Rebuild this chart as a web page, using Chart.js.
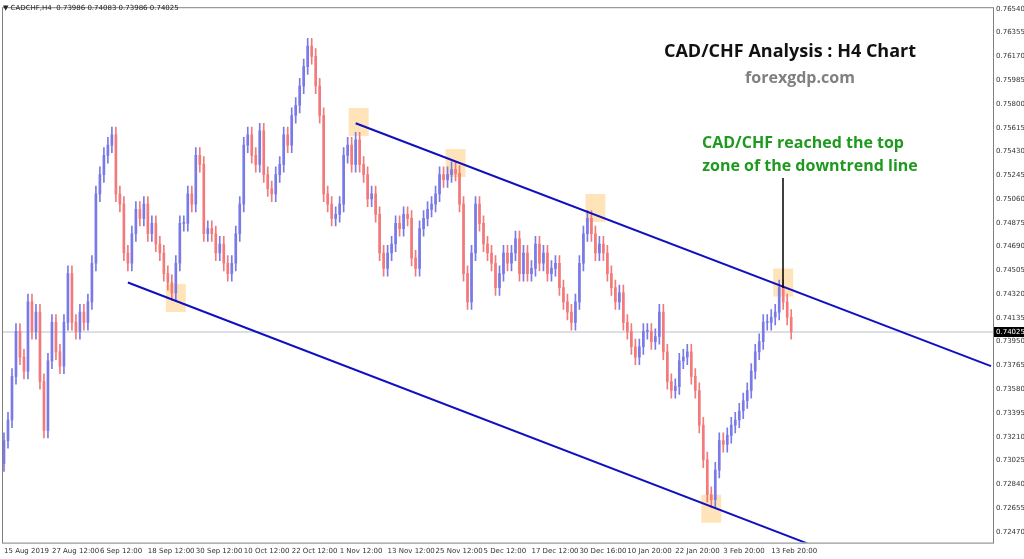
<!DOCTYPE html>
<html>
<head>
<meta charset="utf-8">
<script src="https://cdn.jsdelivr.net/npm/chart.js@4.4.1/dist/chart.umd.min.js"></script>
<style>
body { margin: 0; background: #fff; }
#wrap { width: 1024px; height: 559px; position: relative; }
</style>
</head>
<body>
<div id="wrap"><canvas id="c" width="1024" height="559"></canvas></div>
<script>
// H4 closes (one bar every ~4px)
const closes = [
	0.7318, 0.7334, 0.7368, 0.7403, 0.7383, 0.7372, 0.7426, 0.7403, 0.7418, 0.7364,
	0.7326, 0.7380, 0.7410, 0.7387, 0.7376, 0.7410, 0.7448, 0.7410, 0.7403, 0.7418,
	0.7410, 0.7426, 0.7456, 0.7510, 0.7525, 0.7540, 0.7548, 0.7556, 0.7510, 0.7502,
	0.7464, 0.7456, 0.7479, 0.7498, 0.7491, 0.7502, 0.7479, 0.7487, 0.7471, 0.7464,
	0.7448, 0.7441, 0.7433, 0.7456, 0.7487, 0.7487, 0.7510, 0.7502, 0.7540, 0.7533,
	0.7479, 0.7483, 0.7479, 0.7464, 0.7471, 0.7456, 0.7448, 0.7456, 0.7479, 0.7502,
	0.7548, 0.7556, 0.7540, 0.7533, 0.7559, 0.7525, 0.7514, 0.7510, 0.7525, 0.7533,
	0.7556, 0.7548, 0.7571, 0.7579, 0.7594, 0.7609, 0.7625, 0.7617, 0.7594, 0.7571,
	0.7510, 0.7502, 0.7491, 0.7494, 0.7502, 0.7540, 0.7548, 0.7533, 0.7552, 0.7533,
	0.7525, 0.7506, 0.7510, 0.7494, 0.7464, 0.7452, 0.7464, 0.7471, 0.7487, 0.7483,
	0.7494, 0.7491, 0.7460, 0.7452, 0.7483, 0.7491, 0.7498, 0.7502, 0.7510, 0.7525,
	0.7521, 0.7525, 0.7529, 0.7526, 0.7502, 0.7448, 0.7426, 0.7464, 0.7502, 0.7487,
	0.7471, 0.7464, 0.7456, 0.7437, 0.7448, 0.7464, 0.7456, 0.7464, 0.7475, 0.7448,
	0.7464, 0.7448, 0.7452, 0.7471, 0.7456, 0.7464, 0.7448, 0.7452, 0.7456, 0.7437,
	0.7426, 0.7418, 0.7410, 0.7426, 0.7456, 0.7479, 0.7491, 0.7479, 0.7464, 0.7471,
	0.7464, 0.7448, 0.7437, 0.7426, 0.7433, 0.7410, 0.7403, 0.7391, 0.7383, 0.7391,
	0.7403, 0.7403, 0.7395, 0.7399, 0.7418, 0.7387, 0.7364, 0.7357, 0.7360, 0.7380,
	0.7383, 0.7387, 0.7368, 0.7357, 0.7330, 0.7303, 0.7276, 0.7272, 0.7295, 0.7318,
	0.7315, 0.7322, 0.7330, 0.7334, 0.7341, 0.7349, 0.7357, 0.7372, 0.7387, 0.7395,
	0.7410, 0.7410, 0.7414, 0.7418, 0.7437, 0.7426, 0.7414, 0.7403
]
const firstOpen = 0.7300
const wick = 0.0006
const totalSlots = 248

const xTickLabels = ['15 Aug 2019', '27 Aug 12:00', '6 Sep 12:00', '18 Sep 12:00', '30 Sep 12:00',
	'10 Oct 12:00', '22 Oct 12:00', '1 Nov 12:00', '13 Nov 12:00', '25 Nov 12:00', '5 Dec 12:00',
	'17 Dec 12:00', '30 Dec 16:00', '10 Jan 20:00', '22 Jan 20:00', '3 Feb 20:00', '13 Feb 20:00']
const xTickEvery = 12
const yTicks = [0.72470, 0.72655, 0.72840, 0.73025, 0.73210, 0.73395, 0.73580, 0.73765, 0.73950,
	0.74135, 0.74320, 0.74505, 0.74690, 0.74875, 0.75060, 0.75245, 0.75430, 0.75615, 0.75800,
	0.75985, 0.76170, 0.76355, 0.76540]
const lastPrice = 0.74025

// channel lines: [index, price]
const upperLine = [[88, 0.7565], [247, 0.7376]]
const lowerLine = [[31, 0.7441], [201, 0.7238]]
// highlighted touch points: [index, price]
const touches = [[88.75, 0.7566], [113, 0.7534], [148, 0.7499], [195, 0.7441], [43, 0.7429], [177, 0.7265]]

const labels = []
for (let i = 0; i < totalSlots; i++) {
	labels.push(i % xTickEvery === 0 && xTickLabels[i / xTickEvery] ? xTickLabels[i / xTickEvery] : '')
}
const bodies = [], wicks = [], colors = []
closes.forEach(function (c, i) {
	const o = i === 0 ? firstOpen : closes[i - 1]
	bodies.push([o, c])
	wicks.push([Math.min(o, c) - wick, Math.max(o, c) + wick])
	colors.push(c >= o ? '#7a7ae6' : '#f27a7a')
})

function lineData(pts) {
	const d = new Array(totalSlots).fill(null)
	pts.forEach(p => { d[p[0]] = p[1] })
	return d
}

const overlay = {
	id: 'overlay',
	beforeDatasetsDraw(chart) {
		const ctx = chart.ctx, y = chart.scales.y, a = chart.chartArea
		ctx.save()
		ctx.fillStyle = 'rgba(255, 205, 130, 0.55)'
		touches.forEach(function (t) {
			const px = a.left + (t[0] + 0.5) * (a.width / totalSlots)
			ctx.fillRect(px - 10, y.getPixelForValue(t[1]) - 14, 20, 28)
		})
		const ly = y.getPixelForValue(lastPrice)
		ctx.strokeStyle = '#b8bec8'
		ctx.lineWidth = 1
		ctx.beginPath(); ctx.moveTo(a.left, ly); ctx.lineTo(a.right, ly); ctx.stroke()
		ctx.restore()
	},
	afterDraw(chart) {
		const ctx = chart.ctx, y = chart.scales.y, a = chart.chartArea
		ctx.save()
		ctx.strokeStyle = '#808080'
		ctx.lineWidth = 1
		ctx.strokeRect(a.left + 0.5, a.top + 0.5, a.width, a.height)
		// arrow line
		ctx.strokeStyle = '#000'
		ctx.lineWidth = 1.5
		ctx.beginPath(); ctx.moveTo(783, 178); ctx.lineTo(783, 288); ctx.stroke()
		// last price label
		const ly = y.getPixelForValue(lastPrice)
		ctx.fillStyle = '#000'
		ctx.fillRect(a.right + 1, ly - 5, 30, 10)
		ctx.fillStyle = '#fff'
		ctx.font = '7px Tahoma, "DejaVu Sans"'
		ctx.textBaseline = 'middle'
		ctx.fillText(lastPrice.toFixed(5), a.right + 3, ly)
		// texts
		ctx.textAlign = 'center'
		ctx.fillStyle = '#111'
		ctx.font = 'bold 18px "Open Sans", "DejaVu Sans"'
		ctx.fillText('CAD/CHF Analysis : H4 Chart', 790, 52)
		ctx.fillStyle = '#808080'
		ctx.font = 'bold 16px "Open Sans", "DejaVu Sans"'
		ctx.fillText('forexgdp.com', 800, 78)
		ctx.fillStyle = '#1e9a1e'
		ctx.fillText('CAD/CHF reached the top', 803, 143)
		ctx.fillText('zone of the downtrend line', 810, 166)
		ctx.textAlign = 'left'
		ctx.fillStyle = '#222'
		ctx.font = '7px Tahoma, "DejaVu Sans"'
		ctx.fillText('\u25BC CADCHF,H4  0.73986 0.74083 0.73986 0.74025', 3, 8)
		ctx.restore()
	}
}

new Chart(document.getElementById('c'), {
	type: 'bar',
	data: {
		labels: labels,
		datasets: [
			{ data: wicks, backgroundColor: colors, barThickness: 1, grouped: false, order: 3 },
			{ data: bodies, backgroundColor: colors, barThickness: 2, grouped: false, order: 2, minBarLength: 1 },
			{ type: 'line', data: lineData(upperLine), spanGaps: true, borderColor: '#1010c0', borderWidth: 2, pointRadius: 0, order: 1 },
			{ type: 'line', data: lineData(lowerLine), spanGaps: true, borderColor: '#1010c0', borderWidth: 2, pointRadius: 0, order: 1 }
		]
	},
	options: {
		responsive: false,
		animation: false,
		layout: { padding: 0 },
		plugins: { legend: { display: false }, tooltip: { enabled: false } },
		scales: {
			x: {
				grid: { display: false, drawTicks: false },
				border: { display: false },
				ticks: {
					autoSkip: false, maxRotation: 0, color: '#333', padding: 4,
					font: { size: 7, family: 'Tahoma, "DejaVu Sans"' },
					align: 'start'
				}
			},
			y: {
				position: 'right',
				min: 0.72386, max: 0.76553,
				grid: { display: false, drawTicks: false },
				border: { display: false },
				afterBuildTicks: s => { s.ticks = yTicks.map(v => ({ value: v })) },
				afterFit: s => { s.width = 31 },
				ticks: {
					color: '#333', padding: 3,
					font: { size: 7, family: 'Tahoma, "DejaVu Sans"' },
					callback: v => v.toFixed(5)
				}
			}
		}
	},
	plugins: [overlay]
})
</script>
</body>
</html>
